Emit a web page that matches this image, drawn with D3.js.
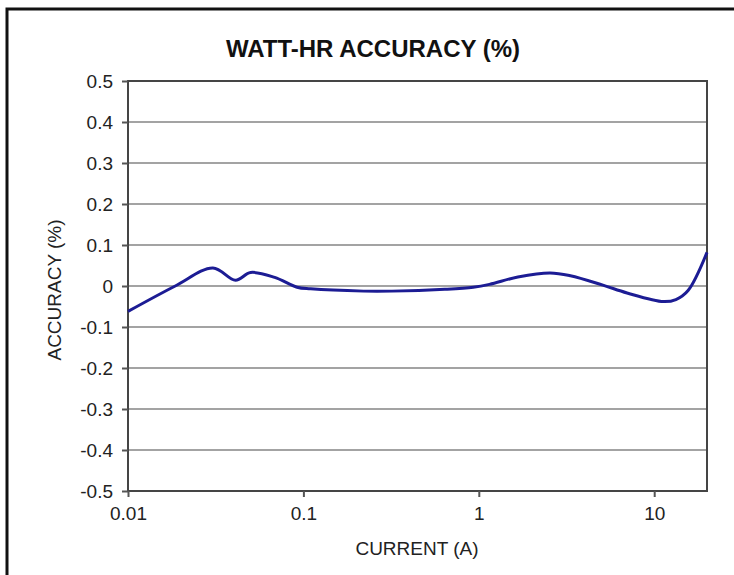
<!DOCTYPE html>
<html>
<head>
<meta charset="utf-8">
<script src="https://cdn.jsdelivr.net/npm/d3@7"></script>
<style>
  body { margin: 0; background: #fff; }
  svg { display: block; font-family: "Liberation Sans", Arial, sans-serif; }
</style>
</head>
<body>
<div id="chart"></div>
<script>
// values
var current = [0.01, 0.0186, 0.0305, 0.041, 0.05, 0.0686, 0.092, 0.11, 0.22, 0.32, 0.64, 0.93, 1.15, 1.67, 2.55, 3.33, 5.1, 7.0, 11.3, 13.3, 15.6, 20];
var accuracy = [-0.062, 0.0, 0.044, 0.014, 0.033, 0.021, -0.003, -0.007, -0.0125, -0.0125, -0.008, -0.003, 0.004, 0.022, 0.032, 0.025, 0.002, -0.017, -0.038, -0.033, -0.011, 0.082];

var xTicks = [0.01, 0.1, 1, 10];
var xTickLabels = ['0.01', '0.1', '1', '10'];
var yTicks = [0.5, 0.4, 0.3, 0.2, 0.1, 0, -0.1, -0.2, -0.3, -0.4, -0.5];
var yTickLabels = ['0.5', '0.4', '0.3', '0.2', '0.1', '0', '-0.1', '-0.2', '-0.3', '-0.4', '-0.5'];

var width = 734, height = 575;
var plot = { left: 128, top: 81, right: 707, bottom: 491 };

var svg = d3.select('#chart').append('svg')
  .attr('width', width)
  .attr('height', height);

//outer frame
svg.append('rect')
  .attr('x', 7).attr('y', 9)
  .attr('width', 800).attr('height', 700)
  .attr('fill', 'none')
  .attr('stroke', '#111')
  .attr('stroke-width', 3);

var x = d3.scaleLog()
  .domain([0.01, 20])
  .range([plot.left, plot.right]);

var y = d3.scaleLinear()
  .domain([-0.5, 0.5])
  .range([plot.bottom, plot.top]);

//gridlines
svg.append('g')
  .selectAll('line')
  .data(yTicks)
  .enter()
  .append('line')
  .attr('x1', plot.left)
  .attr('x2', plot.right)
  .attr('y1', function (d) { return y(d); })
  .attr('y2', function (d) { return y(d); })
  .attr('stroke', '#a3a3a3')
  .attr('stroke-width', 2);

//plot border
svg.append('rect')
  .attr('x', plot.left).attr('y', plot.top)
  .attr('width', plot.right - plot.left)
  .attr('height', plot.bottom - plot.top)
  .attr('fill', 'none')
  .attr('stroke', '#454545')
  .attr('stroke-width', 2);

//y axis
var yAxis = d3.axisLeft(y)
  .tickValues(yTicks)
  .tickSize(6)
  .tickPadding(9)
  .tickFormat(function (d, i) { return yTickLabels[i]; });

var gy = svg.append('g')
  .attr('transform', 'translate(' + plot.left + ',0)')
  .call(yAxis);
gy.select('.domain').remove();
gy.selectAll('.tick line').attr('stroke', '#555').attr('stroke-width', 2);
gy.selectAll('.tick text')
  .style('font-size', '19px')
  .style('font-family', '"Liberation Sans", Arial, sans-serif')
  .attr('fill', '#222');

//x axis
var xAxis = d3.axisBottom(x)
  .tickValues(xTicks)
  .tickSize(6)
  .tickPadding(10)
  .tickFormat(function (d, i) { return xTickLabels[i]; });

var gx = svg.append('g')
  .attr('transform', 'translate(0,' + plot.bottom + ')')
  .call(xAxis);
gx.select('.domain').remove();
gx.selectAll('.tick line').attr('stroke', '#555').attr('stroke-width', 2);
gx.selectAll('.tick text')
  .style('font-size', '19px')
  .style('font-family', '"Liberation Sans", Arial, sans-serif')
  .attr('fill', '#222');

//curve
var data = current.map(function (c, i) { return { x: c, y: accuracy[i] }; });
var line = d3.line()
  .x(function (d) { return x(d.x); })
  .y(function (d) { return y(d.y); })
  .curve(d3.curveCatmullRom.alpha(0.5));

svg.append('path')
  .datum(data)
  .attr('d', line)
  .attr('fill', 'none')
  .attr('stroke', '#1c1c94')
  .attr('stroke-width', 3);

//title
svg.append('text')
  .attr('x', 373)
  .attr('y', 57)
  .attr('text-anchor', 'middle')
  .style('font-size', '24px')
  .style('font-weight', 'bold')
  .attr('fill', '#111')
  .text('WATT-HR ACCURACY (%)');

//axis labels
svg.append('text')
  .attr('x', 417)
  .attr('y', 555)
  .attr('text-anchor', 'middle')
  .style('font-size', '19px')
  .attr('fill', '#222')
  .text('CURRENT (A)');

svg.append('text')
  .attr('transform', 'translate(61,290) rotate(-90)')
  .attr('text-anchor', 'middle')
  .style('font-size', '19px')
  .attr('fill', '#222')
  .text('ACCURACY (%)');
</script>
</body>
</html>
